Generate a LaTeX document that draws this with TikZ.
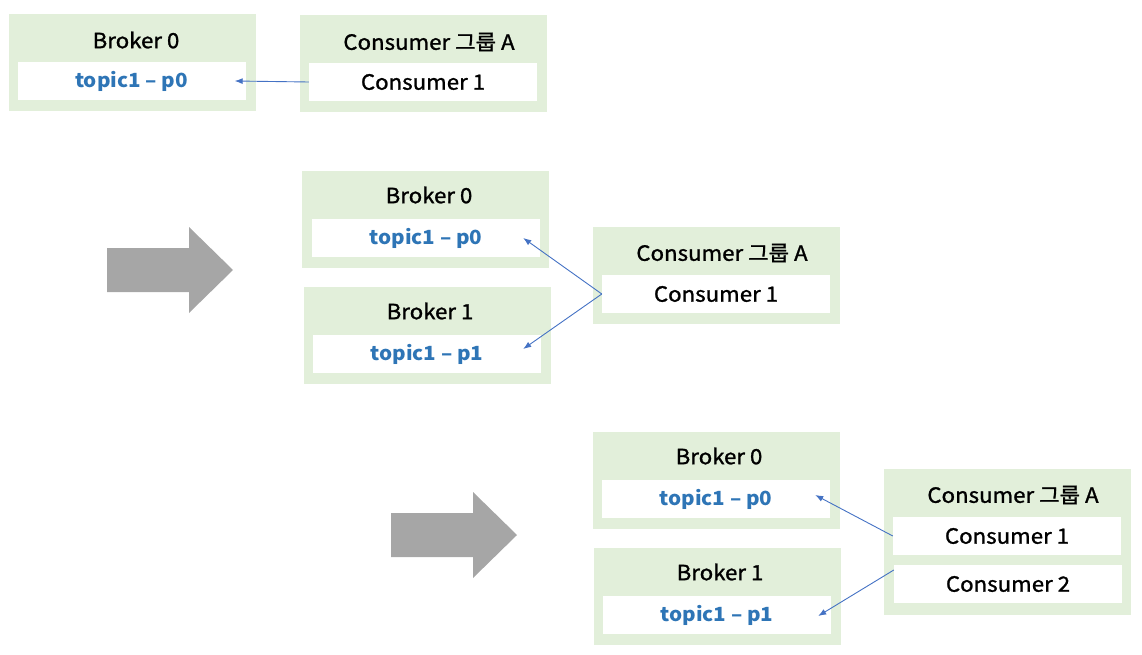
\documentclass[tikz,border=0pt]{standalone}
\usepackage{fontspec}
\setmainfont{Noto Sans CJK KR}[FakeStretch=1.06,FakeBold=1.2,BoldFeatures={FakeBold=0}]
\usetikzlibrary{arrows.meta}
\definecolor{boxgreen}{HTML}{E2EFDA}
\definecolor{topicblue}{HTML}{2E75B6}
\definecolor{linkblue}{HTML}{4472C4}
\definecolor{shiftgray}{HTML}{A6A6A6}
\def\groupbox{\node[fill=boxgreen,inner sep=0pt,minimum width=247pt,minimum height=97pt]}
\def\slotbox{\node[fill=white,inner sep=0pt,minimum width=228pt,minimum height=38pt]}
\def\boxtitle{\node[inner sep=0pt]}

\begin{document}
\begin{tikzpicture}[x=1pt,y=-1pt,font=\fontsize{21}{21}\selectfont,
  topic/.style={text=topicblue,font=\fontsize{19.5}{20}\selectfont\bfseries},
  link/.style={draw=linkblue,line width=0.9pt,-{Latex[length=8pt,width=6pt]}},
  movearrow/.style={fill=shiftgray}]
\useasboundingbox (0,0) rectangle (1142,655);
% step 1
\groupbox (b0) at (132,62.5) {};
\boxtitle (b0t) at (136,40) {Broker 0};
\slotbox[topic] (t0) at (131.5,81) {topic1 – p0};
\groupbox (cg) at (423.5,64) {};
\boxtitle (cgt) at (429,42) {Consumer 그룹 A};
\slotbox (c1) at (423,82) {Consumer 1};
\draw[link] (c1.west) to ([xshift=-11pt]t0.east);
% step 2
\fill[movearrow] (107,248) -- (189,248) -- (189,227) -- (233,270) -- (189,313) -- (189,292) -- (107,292) -- cycle;
\groupbox (bb0) at (425.5,219.5) {};
\boxtitle (bb0t) at (429,195) {Broker 0};
\slotbox[topic] (tt0) at (426,238) {topic1 – p0};
\groupbox (bb1) at (427,335.5) {};
\boxtitle (bb1t) at (430,311) {Broker 1};
\slotbox[topic] (tt1) at (427,354) {topic1 – p1};
\groupbox (ccg) at (716,275.5) {};
\boxtitle (ccgt) at (722,253) {Consumer 그룹 A};
\slotbox (cc1) at (716,294) {Consumer 1};
\draw[link] (cc1.west) to ([xshift=-17pt]tt0.east);
\draw[link] (cc1.west) to ([xshift=-18pt,yshift=5pt]tt1.east);
% step 3
\fill[movearrow] (391,513) -- (473,513) -- (473,492) -- (517,535) -- (473,578) -- (473,557) -- (391,557) -- cycle;
\groupbox (bbb0) at (716,480.5) {};
\boxtitle (bbb0t) at (719,456) {Broker 0};
\slotbox[topic] (ttt0) at (716,499) {topic1 – p0};
\groupbox (bbb1) at (717,596.5) {};
\boxtitle (bbb1t) at (720,572) {Broker 1};
\slotbox[topic] (ttt1) at (717,615) {topic1 – p1};
\groupbox[minimum height=146pt] (cccg) at (1007,542) {};
\boxtitle (cccgt) at (1013,495) {Consumer 그룹 A};
\slotbox (ccc1) at (1007,536) {Consumer 1};
\slotbox (ccc2) at (1008,584) {Consumer 2};
\draw[link] (ccc1.west) to ([xshift=-15pt,yshift=4pt]ttt0.east);
\draw[link] ([yshift=14pt]ccc2.west) to ([xshift=-13pt,yshift=-1pt]ttt1.east);
\end{tikzpicture}
\end{document}
